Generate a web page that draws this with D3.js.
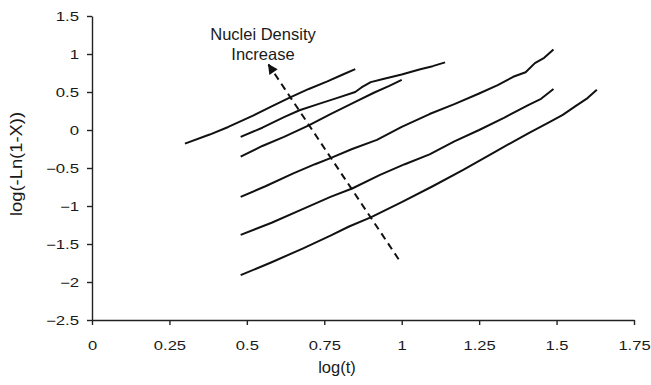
<!DOCTYPE html>
<html>
<head>
<meta charset="utf-8">
<script src="https://cdn.jsdelivr.net/npm/d3@7"></script>
<style>
  body { margin: 0; background: #fff; }
  text { font-family: "Liberation Sans", Arial, sans-serif; fill: #1a1a1a; }
</style>
</head>
<body>
<div id="chart"></div>
<script>
// axis ticks
const xTicks = [0, 0.25, 0.5, 0.75, 1, 1.25, 1.5, 1.75];
const yTicks = [-2.5, -2, -1.5, -1, -0.5, 0, 0.5, 1, 1.5];

// curves, top to bottom, as [log(t), log(-Ln(1-X))]
const curveA = [[0.30,-0.18],[0.38,-0.06],[0.44,0.04],[0.52,0.19],[0.58,0.31],[0.64,0.43],[0.70,0.54],[0.76,0.64],[0.81,0.73],[0.85,0.80]];
const curveB = [[0.48,-0.09],[0.55,0.03],[0.62,0.17],[0.67,0.26],[0.73,0.34],[0.79,0.42],[0.85,0.50],[0.87,0.56],[0.90,0.63],[0.94,0.67],[1.00,0.73],[1.06,0.80],[1.10,0.84],[1.14,0.89]];
const curveC = [[0.48,-0.35],[0.55,-0.21],[0.62,-0.09],[0.70,0.06],[0.77,0.21],[0.85,0.37],[0.91,0.49],[0.96,0.58],[1.00,0.66]];
const curveD = [[0.48,-0.88],[0.56,-0.74],[0.65,-0.57],[0.72,-0.45],[0.77,-0.37],[0.84,-0.25],[0.92,-0.13],[1.00,0.04],[1.09,0.21],[1.17,0.34],[1.25,0.48],[1.31,0.59],[1.36,0.70],[1.40,0.76],[1.43,0.88],[1.46,0.95],[1.49,1.06]];
const curveE = [[0.48,-1.38],[0.58,-1.22],[0.68,-1.04],[0.77,-0.88],[0.84,-0.77],[0.93,-0.59],[1.01,-0.45],[1.09,-0.32],[1.17,-0.15],[1.25,0.00],[1.33,0.16],[1.41,0.33],[1.45,0.41],[1.49,0.54]];
const curveF = [[0.48,-1.91],[0.58,-1.74],[0.68,-1.56],[0.77,-1.39],[0.83,-1.27],[0.90,-1.15],[1.00,-0.95],[1.10,-0.74],[1.20,-0.52],[1.30,-0.29],[1.41,-0.04],[1.48,0.11],[1.52,0.20],[1.56,0.31],[1.60,0.42],[1.63,0.53]];
const curves = [curveA, curveB, curveC, curveD, curveE, curveF];

// dashed arrow, tail then head
const arrow = [[0.99,-1.70],[0.57,0.86]];
const noteLines = ["Nuclei Density", "Increase"];

const width = 651, height = 385;
const margin = {top: 16, right: 17, bottom: 65, left: 92};

const svg = d3.select("#chart")
    .append("svg")
    .attr("width", width)
    .attr("height", height);

const x = d3.scaleLinear().domain([0, 1.75]).range([margin.left, width - margin.right]);
const y = d3.scaleLinear().domain([-2.5, 1.5]).range([height - margin.bottom, margin.top]);

//axes
const xAxis = svg.append("g")
    .attr("transform", `translate(0,${y(-2.5)})`)
    .call(d3.axisBottom(x).tickValues(xTicks).tickSize(5).tickSizeOuter(0).tickFormat(d3.format("")));
xAxis.selectAll("text")
    .attr("y", 30).attr("dy", 0)
    .attr("transform", "scale(1.38,1)")
    .style("font-size", "12px");

const yAxis = svg.append("g")
    .attr("transform", `translate(${x(0)},0)`)
    .call(d3.axisLeft(y).tickValues(yTicks).tickSize(5).tickSizeOuter(0).tickFormat(d3.format("")));
yAxis.selectAll("text")
    .attr("x", -13/1.4).attr("dy", "0.36em")
    .attr("transform", "scale(1.4,1)")
    .style("font-size", "12px");

svg.selectAll(".domain, .tick line")
    .attr("stroke", "#222")
    .attr("stroke-width", 1.4);
svg.selectAll(".tick text").attr("fill", "#1a1a1a");

//titles
svg.append("text")
    .attr("x", 337).attr("y", 373)
    .attr("text-anchor", "middle")
    .style("font-size", "16.5px")
    .text("log(t)");

svg.append("text")
    .attr("transform", "translate(22,164) rotate(-90)")
    .attr("text-anchor", "middle")
    .style("font-size", "16px")
    .attr("textLength", 104)
    .attr("lengthAdjust", "spacingAndGlyphs")
    .text("log(-Ln(1-X))");

//curves
const line = d3.line().x(d => x(d[0])).y(d => y(d[1]));
svg.selectAll(".curve")
    .data(curves)
    .enter().append("path")
    .attr("class", "curve")
    .attr("d", line)
    .attr("fill", "none")
    .attr("stroke", "#111")
    .attr("stroke-width", 2)
    .attr("stroke-linejoin", "round");

//annotation arrow
svg.append("defs").append("marker")
    .attr("id", "head")
    .attr("viewBox", "0 0 10 10")
    .attr("refX", 9).attr("refY", 5)
    .attr("markerWidth", 5.5).attr("markerHeight", 5)
    .attr("markerUnits", "strokeWidth")
    .attr("orient", "auto")
    .append("path")
    .attr("d", "M0,0L10,5L0,10z")
    .attr("fill", "#111");

svg.append("path")
    .attr("d", line(arrow))
    .attr("stroke", "#111")
    .attr("stroke-width", 2)
    .attr("stroke-dasharray", "7,5")
    .attr("fill", "none")
    .attr("marker-end", "url(#head)");

svg.selectAll(".note")
    .data(noteLines)
    .enter().append("text")
    .attr("class", "note")
    .attr("x", 263)
    .attr("y", (d, i) => 40 + i*20)
    .attr("text-anchor", "middle")
    .style("font-size", "16.5px")
    .text(d => d);
</script>
</body>
</html>
